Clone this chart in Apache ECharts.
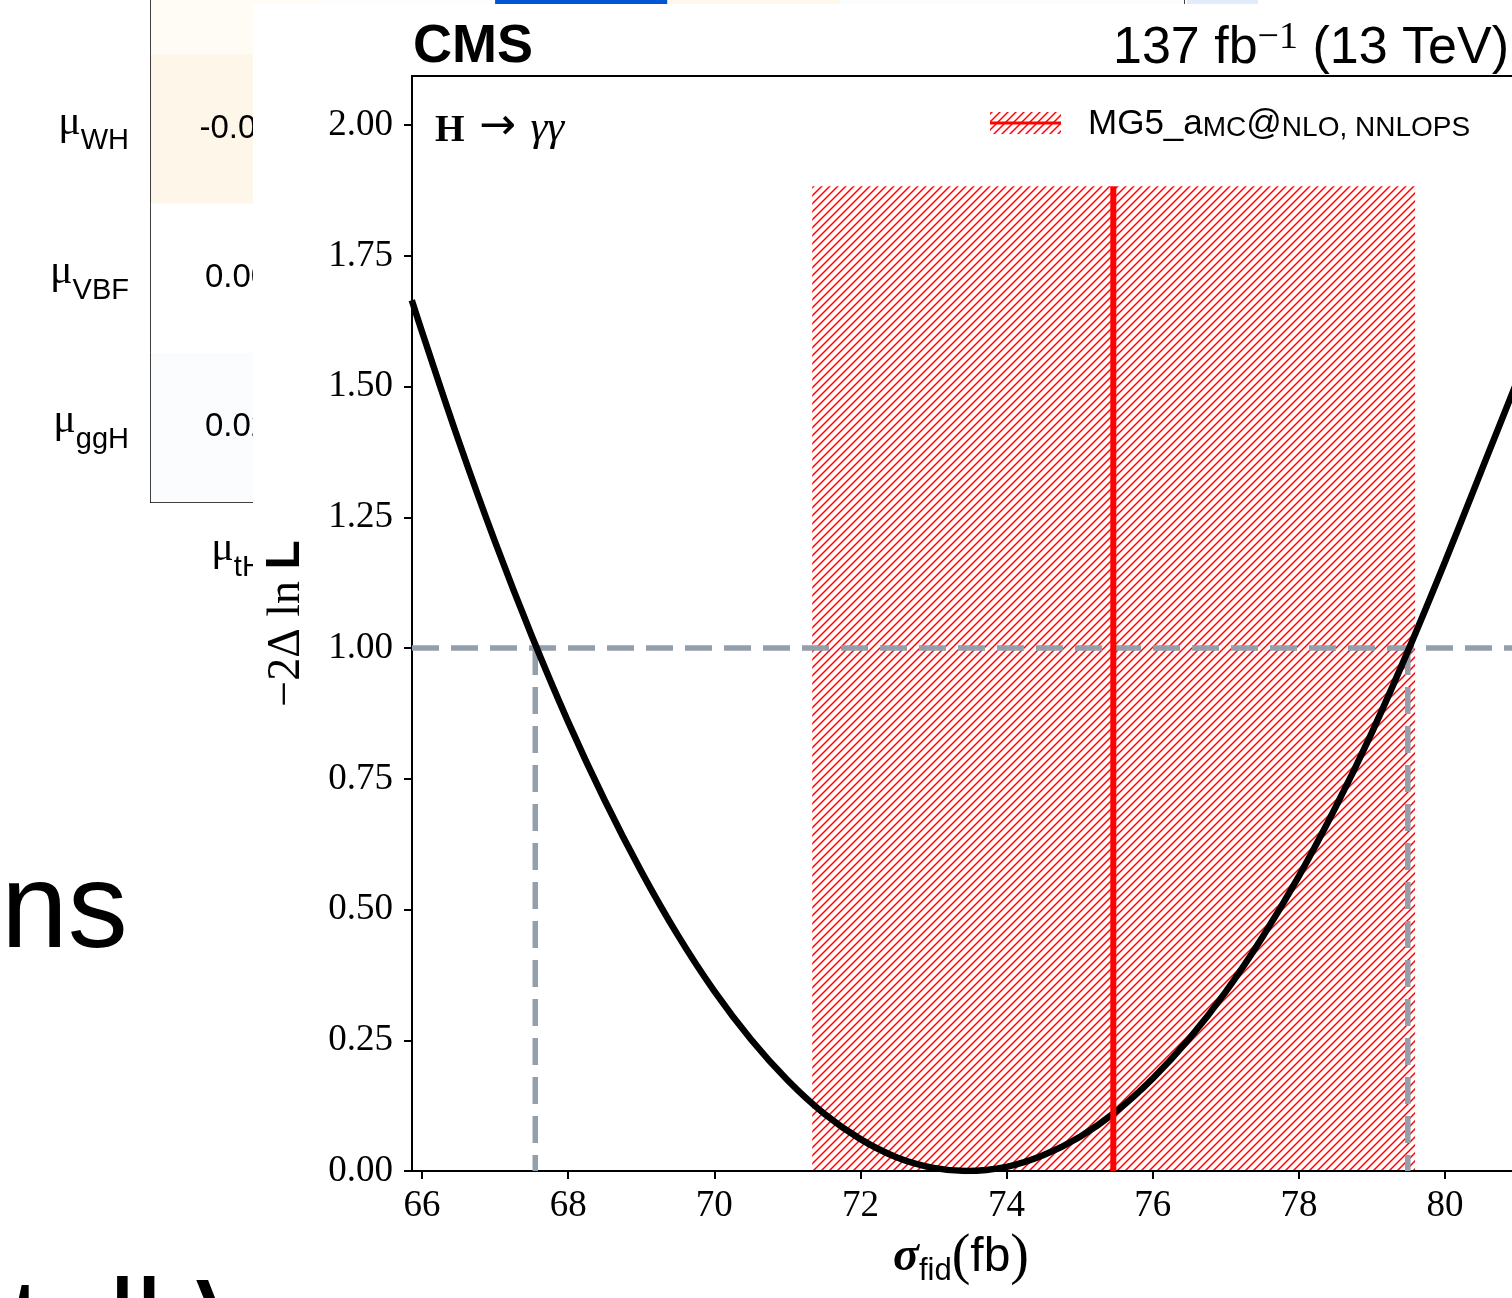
<!DOCTYPE html>
<html>
<head>
<meta charset="utf-8">
<title>H → γγ fiducial cross section scan</title>
<script src="https://cdn.jsdelivr.net/npm/echarts@6/dist/echarts.min.js"></script>
<style>
  html, body { margin: 0; padding: 0; background: #ffffff; }
  #main { width: 1512px; height: 1298px; }
</style>
</head>
<body>
<div id="main"></div>
<script>
// ---- likelihood scan: sigma_fid (fb) vs -2 Delta ln L ----
const scanSigma = [65.86, 66.0, 66.5, 67.0, 67.5, 68.0, 68.5, 69.0, 69.5, 70.0, 70.5, 71.0, 71.5, 72.0, 72.5, 73.0, 73.45,
                   74.0, 74.5, 75.0, 75.5, 76.0, 76.5, 77.0, 77.5, 78.0, 78.5, 79.0, 79.5, 80.0, 80.5, 81.0, 81.2];
const scanNLL   = [1.665, 1.605, 1.397, 1.203, 1.024, 0.859, 0.709, 0.573, 0.451, 0.344, 0.252, 0.174, 0.110, 0.061, 0.026, 0.006, 0.000,
                   0.008, 0.030, 0.065, 0.114, 0.177, 0.253, 0.343, 0.447, 0.564, 0.695, 0.839, 0.997, 1.165, 1.340, 1.515, 1.585];

// 68% interval where the scan crosses 1
const oneSigmaLevel = 1.0;
const oneSigmaBounds = [67.55, 79.49];

// MG5_aMC@NLO, NNLOPS prediction: central value and uncertainty band
const theoryCentral = 75.46;
const theoryBand = [71.34, 79.59];
const theoryBandTop = 1.883;

// axis ranges and ticks
const xRange = [65.863, 81.19];
const yRange = [0, 2.094];
const xTicks = [66, 68, 70, 72, 74, 76, 78, 80];
const yTicks = [0, 0.25, 0.5, 0.75, 1.0, 1.25, 1.5, 1.75, 2.0];

// ---- signal-strength correlation matrix (partly hidden behind the scan) ----
const corrCols = ['tH', 'ttH', 'ZH', 'WH', 'VBF', 'ggH'];
const corrRows = ['ggH', 'VBF', 'WH', 'ZH', 'ttH', 'tH'];
const corrCells = [
  ['tH', 'ggH', 0.02], ['tH', 'VBF', 0.00], ['tH', 'WH', -0.09], ['tH', 'ZH', -0.04],
  ['ttH', 'ZH', 0.01], ['ZH', 'ZH', 1.00], ['WH', 'ZH', -0.08], ['VBF', 'ZH', 0.02], ['ggH', 'ZH', 0.02]
];

const SERIF = "'Liberation Serif', 'DejaVu Serif', serif";
const SANS = "'Liberation Sans', Arial, 'DejaVu Sans', sans-serif";

// red diagonal hatching used for the prediction band
function makeHatch() {
  const s = 8;
  const c = document.createElement('canvas');
  c.width = s; c.height = s;
  const g = c.getContext('2d');
  g.strokeStyle = '#ff0000';
  g.lineWidth = 1.5;
  g.beginPath();
  g.moveTo(-2, s + 2); g.lineTo(s + 2, -2);
  g.moveTo(-2, 2); g.lineTo(2, -2);
  g.moveTo(s - 2, s + 2); g.lineTo(s + 2, s - 2);
  g.stroke();
  return c;
}
const hatchTile = makeHatch();
const hatchFill = { type: 'pattern', image: hatchTile, repeat: 'repeat' };

const chart = echarts.init(document.getElementById('main'), null, { renderer: 'canvas', width: 1512, height: 1298 });

const muRich = {
  m: { fontFamily: SERIF, fontSize: 42, color: '#000', verticalAlign: 'top', lineHeight: 54 },
  s: { fontFamily: SANS, fontSize: 29, color: '#000', verticalAlign: 'bottom', lineHeight: 54 }
};

const option = {
  animation: false,
  backgroundColor: '#ffffff',
  grid: [
    { // scan panel
      left: 412, top: 76, width: 1120, bottom: 127, outerBoundsMode: 'none',
      show: true, borderColor: '#000', borderWidth: 2, backgroundColor: 'transparent', z: 2
    },
    { // correlation matrix
      left: 151, top: -394, width: 1033, height: 896, outerBoundsMode: 'none',
      show: true, borderColor: '#000', borderWidth: 2, backgroundColor: 'transparent', z: 0
    }
  ],
  xAxis: [
    {
      type: 'value', gridIndex: 0, min: xRange[0], max: xRange[1], z: 3,
      splitLine: { show: false },
      axisLine: { show: true, onZero: false, lineStyle: { color: '#000', width: 2 } },
      axisTick: { show: true, customValues: xTicks, length: 8, inside: false, lineStyle: { color: '#000', width: 2 } },
      axisLabel: { customValues: xTicks, fontFamily: SERIF, fontSize: 37, color: '#000', margin: 17 },
      name: '{s|σ}{sub|fid}{p|(}{f|fb}{p|)}',
      nameLocation: 'middle',
      nameGap: 58,
      nameTextStyle: {
        padding: [0, 22, 0, 0],
        rich: {
          s: { fontFamily: SERIF, fontStyle: 'italic', fontWeight: 'bold', fontSize: 48, color: '#000', verticalAlign: 'middle', lineHeight: 58 },
          sub: { fontFamily: SANS, fontSize: 31, color: '#000', verticalAlign: 'bottom', lineHeight: 58 },
          p: { fontFamily: SERIF, fontSize: 56, color: '#000', verticalAlign: 'middle', lineHeight: 58 },
          f: { fontFamily: SANS, fontSize: 48, color: '#000', verticalAlign: 'middle', lineHeight: 58 }
        }
      }
    },
    {
      type: 'category', gridIndex: 1, data: corrCols, position: 'bottom', z: 0,
      axisLine: { show: false }, axisTick: { show: false }, splitLine: { show: false },
      axisLabel: { interval: 0, margin: 26, formatter: v => '{m|μ}{s|' + v + '}', rich: muRich }
    }
  ],
  yAxis: [
    {
      type: 'value', gridIndex: 0, min: yRange[0], max: yRange[1], z: 3,
      splitLine: { show: false },
      axisLine: { show: true, onZero: false, lineStyle: { color: '#000', width: 2 } },
      axisTick: { show: true, customValues: yTicks, length: 8, inside: false, lineStyle: { color: '#000', width: 2 } },
      axisLabel: { customValues: yTicks, fontFamily: SERIF, fontSize: 37, color: '#000', margin: 19,
                   formatter: v => v.toFixed(2) },
      name: '{a|−2Δ ln }{b|L}',
      nameLocation: 'middle',
      nameRotate: 90,
      nameGap: 102,
      nameTextStyle: {
        rich: {
          a: { fontFamily: SERIF, fontSize: 46, color: '#000', verticalAlign: 'bottom', lineHeight: 52 },
          b: { fontFamily: SANS, fontWeight: 'bold', fontSize: 48, color: '#000', verticalAlign: 'bottom', lineHeight: 52 }
        }
      }
    },
    {
      type: 'category', gridIndex: 1, data: corrRows, z: 0,
      axisLine: { show: false }, axisTick: { show: false }, splitLine: { show: false },
      axisLabel: { interval: 0, margin: 22, formatter: v => '{m|μ}{s|' + v + '}', rich: muRich }
    }
  ],
  visualMap: {
    type: 'continuous', seriesIndex: 5, dimension: 2,
    min: -1, max: 1, calculable: false, show: true,
    left: 1187, top: -394, itemWidth: 71, itemHeight: 896, padding: 0,
    text: null, showLabel: false, z: 0,
    inRange: { color: ['#f4a60b', '#ffffff', '#0055d4'] }
  },
  series: [
    { // prediction band (hatched)
      type: 'custom', xAxisIndex: 0, yAxisIndex: 0, z: 2, clip: true, silent: true,
      data: [[theoryBand[0], theoryBand[1], theoryBandTop]],
      renderItem: (params, api) => {
        const p0 = api.coord([api.value(0), api.value(2)]);
        const p1 = api.coord([api.value(1), 0]);
        return {
          type: 'rect',
          shape: { x: p0[0], y: p0[1], width: p1[0] - p0[0], height: p1[1] - p0[1] },
          style: { fill: hatchFill }
        };
      }
    },
    { // horizontal 68% level
      type: 'line', xAxisIndex: 0, yAxisIndex: 0, z: 3, symbol: 'none', silent: true,
      data: [[xRange[0], oneSigmaLevel], [xRange[1], oneSigmaLevel]],
      lineStyle: { color: '#939fab', width: 5.5, type: [27, 12] }
    },
    { // vertical drops at the interval bounds
      type: 'line', xAxisIndex: 0, yAxisIndex: 0, z: 3, symbol: 'none', silent: true,
      data: [[oneSigmaBounds[0], oneSigmaLevel], [oneSigmaBounds[0], 0], null,
             [oneSigmaBounds[1], oneSigmaLevel], [oneSigmaBounds[1], 0]],
      connectNulls: false,
      lineStyle: { color: '#939fab', width: 5.5, type: [27, 12] }
    },
    { // observed scan
      type: 'line', xAxisIndex: 0, yAxisIndex: 0, z: 4, symbol: 'none', silent: true,
      smooth: 0.4,
      data: scanSigma.map((x, i) => [x, scanNLL[i]]),
      lineStyle: { color: '#000000', width: 6.5 }
    },
    { // prediction central value
      type: 'line', xAxisIndex: 0, yAxisIndex: 0, z: 5, symbol: 'none', silent: true,
      data: [[theoryCentral, 0], [theoryCentral, theoryBandTop]],
      lineStyle: { color: '#ff0000', width: 6 }
    },
    { // correlation matrix cells
      type: 'heatmap', xAxisIndex: 1, yAxisIndex: 1, z: 0, silent: true,
      data: corrCells.map(([c, r, v]) => [corrCols.indexOf(c), corrRows.indexOf(r), v]),
      label: { show: true, formatter: p => p.value[2].toFixed(2), fontFamily: SANS, fontSize: 33, color: '#000' }
    }
  ],
  graphic: {
    elements: [
      // slide text around the figures
      { type: 'text', z: 0, x: 1, y: 914,
        style: { text: 'ns', font: '120px ' + SANS, fill: '#000', textVerticalAlign: 'middle' } },
      { type: 'text', z: 0, x: 9, y: 1330,
        style: { text: 'tall V', font: '120px ' + SANS, fill: '#000', textVerticalAlign: 'middle' } },
      // white canvas of the scan figure
      { type: 'rect', z: 1, shape: { x: 253, y: 4, width: 1259, height: 1294 }, style: { fill: '#ffffff' } },
      // experiment and luminosity labels
      { type: 'text', z: 6, x: 413, y: 47,
        style: { text: 'CMS', font: 'bold 54px ' + SANS, fill: '#000', textVerticalAlign: 'middle' } },
      { type: 'text', z: 6, x: 1113, y: 47,
        style: {
          text: '{a|137 fb}{b|−1}{a| (13 TeV)}', textVerticalAlign: 'middle',
          rich: {
            a: { fontFamily: SANS, fontSize: 52, fill: '#000', verticalAlign: 'bottom', lineHeight: 56 },
            b: { fontFamily: SERIF, fontSize: 38, fill: '#000', verticalAlign: 'top', lineHeight: 56 }
          }
        } },
      // decay channel
      { type: 'text', z: 6, x: 435, y: 124,
        style: {
          text: '{h|H}{sp| }{a|→}{sp| }{g|γγ}', textVerticalAlign: 'middle',
          rich: {
            h: { fontFamily: SERIF, fontWeight: 'bold', fontSize: 38, fill: '#000', verticalAlign: 'bottom', lineHeight: 52 },
            sp: { fontFamily: SERIF, fontSize: 58, fill: '#000', verticalAlign: 'bottom', lineHeight: 52 },
            a: { fontFamily: "'DejaVu Sans', sans-serif", fontSize: 44, fill: '#000', verticalAlign: 'bottom', lineHeight: 52 },
            g: { fontFamily: SERIF, fontStyle: 'italic', fontSize: 43, fill: '#000', verticalAlign: 'bottom', lineHeight: 52 }
          }
        } },
      // legend entry
      { type: 'rect', z: 6, shape: { x: 990, y: 112, width: 71, height: 22 }, style: { fill: hatchFill } },
      { type: 'line', z: 6, shape: { x1: 990, y1: 123, x2: 1061, y2: 123 }, style: { stroke: '#ff0000', lineWidth: 3 } },
      { type: 'text', z: 6, x: 1088, y: 124,
        style: {
          text: '{n|MG5_a}{s|MC}{n|@}{s|NLO, NNLOPS}', textVerticalAlign: 'middle',
          rich: {
            n: { fontFamily: SANS, fontSize: 35, fill: '#000', verticalAlign: 'bottom', lineHeight: 36 },
            s: { fontFamily: SANS, fontSize: 28, fill: '#000', verticalAlign: 'bottom', lineHeight: 30 }
          }
        } }
    ]
  }
};

chart.setOption(option);
</script>
</body>
</html>
